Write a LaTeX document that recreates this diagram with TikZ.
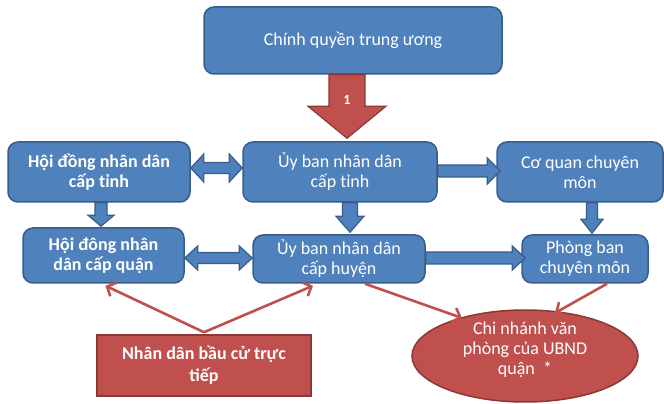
\documentclass[tikz,border=0pt]{standalone}
\usepackage{fontspec}
\setmainfont{Carlito}
\usetikzlibrary{calc,arrows.meta,shapes.geometric}
\definecolor{bfill}{HTML}{4F81BD}
\definecolor{bdraw}{HTML}{385D8A}
\definecolor{rfill}{HTML}{C0504D}
\definecolor{rdraw}{HTML}{8C3836}
\definecolor{rline}{HTML}{C0504D}
\tikzset{
  bbox/.style={draw=bdraw, fill=bfill, line width=1.5pt, rounded corners=10pt,
    text=white, align=center, font=\fontsize{18}{20}\selectfont, inner sep=0pt},
  bboxb/.style={bbox, font=\fontsize{18}{20}\selectfont\bfseries},
  rbox/.style={draw=rdraw, fill=rfill, line width=1.5pt, text=white, align=center,
    font=\fontsize{18}{22}\selectfont\bfseries, inner sep=0pt},
  barrow/.style={draw=bdraw, fill=bfill, line width=1.2pt, line join=miter},
  rarrow/.style={draw=rdraw, fill=rfill, line width=1.2pt, line join=miter},
  redline/.style={draw=rline, line width=2.6pt,
    -{Straight Barb[length=7pt,width=15pt]}},
}
\newcommand\dblharrow[6]{% left node, right node, y, shaft half, head half, head length
  \filldraw[barrow] let \p1=(#1.east), \p2=(#2.west) in
    (\x1,#3) -- (\x1+#6,#3+#5) -- (\x1+#6,#3+#4) -- (\x2-#6,#3+#4) -- (\x2-#6,#3+#5)
    -- (\x2,#3) -- (\x2-#6,#3-#5) -- (\x2-#6,#3-#4) -- (\x1+#6,#3-#4) -- (\x1+#6,#3-#5) -- cycle;}
\newcommand\rightblk[7]{% from node, to node, y, shaft half, head half, head length, overlap
  \filldraw[barrow] let \p1=(#1.east), \p2=(#2.west) in
    (\x1,#3+#4) -- (\x2+#7-#6,#3+#4) -- (\x2+#7-#6,#3+#5) -- (\x2+#7,#3)
    -- (\x2+#7-#6,#3-#5) -- (\x2+#7-#6,#3-#4) -- (\x1,#3-#4) -- cycle;}
\newcommand\downblk[8]{% style, from node, to node, x, shaft half, head half, head length, tip gap
  \filldraw[#1] let \p1=(#2.south), \p2=(#3.north) in
    (#4-#5,\y1) -- (#4-#5,\y2+#8+#7) -- (#4-#6,\y2+#8+#7) -- (#4,\y2+#8)
    -- (#4+#6,\y2+#8+#7) -- (#4+#5,\y2+#8+#7) -- (#4+#5,\y1) -- cycle;}
\begin{document}
\begin{tikzpicture}[x=1pt,y=1pt]
\useasboundingbox (0,0) rectangle (664,404);
% boxes
\node[bbox, minimum width=298, minimum height=67] (top) at (353,363.5) {Chính quyền trung ương};
\node[bboxb, minimum width=182, minimum height=60] (hdt) at (99,232) {Hội đồng nhân dân\\cấp tỉnh};
\node[bbox, minimum width=194, minimum height=60] (ubt) at (340,232) {Ủy ban nhân dân\\cấp tỉnh};
\node[bbox, minimum width=166, minimum height=60] (cq) at (580,232) {Cơ quan chuyên\\môn};
\node[bboxb, minimum width=161, minimum height=55] (hdq) at (103.5,148.5) {Hội đông nhân\\dân cấp quận};
\node[bbox, minimum width=172, minimum height=48] (ubh) at (339,145) {Ủy ban nhân dân\\cấp huyện};
\node[bbox, minimum width=126, minimum height=48] (pb) at (585,145) {Phòng ban\\chuyên môn};
\node[rbox, minimum width=214, minimum height=61] (nd) at (204,38.5) {Nhân dân bầu cử trực\\tiếp};
\node[ellipse, draw=rdraw, fill=rfill, line width=1.5pt, minimum width=226, minimum height=92, inner sep=0pt] (cn) at (525,48) {};
\node[text=white, align=center, font=\fontsize{18}{20}\selectfont] (cnt) at ($(cn.center)+(0,6)$) {Chi nhánh văn\\phòng của UBND\\quận~~*};
% big red arrow
\downblk{rarrow}{top}{ubt}{347}{18}{39}{32}{3}
\node[text=white, font=\fontsize{14}{16}\selectfont\bfseries] (one) at (347,304) {1};
% blue block arrows
\dblharrow{hdt}{ubt}{236}{5.5}{14}{13}
\dblharrow{hdq}{ubh}{146}{5.5}{12}{13}
\rightblk{ubt}{cq}{233}{6}{13}{13}{4}
\rightblk{ubh}{pb}{146}{6}{12}{13}{4}
\downblk{barrow}{hdt}{hdq}{101}{6}{13}{11}{1}
\downblk{barrow}{ubt}{ubh}{350}{7.5}{14}{16}{2}
\downblk{barrow}{cq}{pb}{592}{5.5}{11}{14}{1}
% red thin arrows
\coordinate (meet) at ($(nd.north)+(0,2)$);
\draw[redline] (meet) -- ($(hdq.south)+(2,-2)$);
\draw[redline] (meet) -- ($(ubh.south)+(-26,-2)$);
\draw[redline] ($(ubh.south)+(26,0)$) -- ($(cn.center)+(-63,38)$);
\draw[redline] ($(pb.south)+(22,0)$) -- ($(cn.center)+(30,43)$);
\end{tikzpicture}
\end{document}
